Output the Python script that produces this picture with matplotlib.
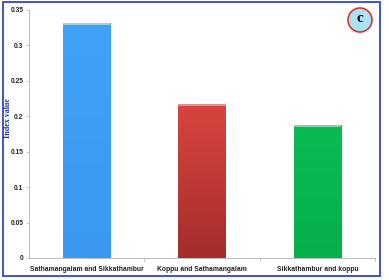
import matplotlib
matplotlib.use("Agg")
import matplotlib.pyplot as plt
import numpy as np
from matplotlib.patches import Ellipse, Rectangle
from matplotlib.colors import LinearSegmentedColormap

# data
pairs = ["Sathamangalam and Sikkathambur", "Koppu and Sathamangalam", "Sikkathambur and koppu"]
index_values = [0.332, 0.217, 0.188]
yticks = [0, 0.05, 0.1, 0.15, 0.2, 0.25, 0.3, 0.35]
ytick_labels = ["0", "0.05", "0.1", "0.15", "0.2", "0.25", "0.3", "0.35"]

bar_colors = ["#3C9EF5", "#C93A36", "#09B64F"]
cap_colors = ["#8FD3F7", "#E98F8C", "#6FE0A0"]
grad_top = ["#3FA2F7", "#D9443F", "#0ABB52"]
grad_bottom = ["#3A98F0", "#A32E2B", "#07B04C"]

W, H = 389, 280
fig = plt.figure(figsize=(W / 100, H / 100), dpi=100)
ax = fig.add_axes([29 / W, 1 - 258 / H, 346 / W, 248 / H])

x = np.arange(len(pairs))
bars = ax.bar(x, index_values, width=0.41, color=bar_colors, zorder=2)

# vertical gradient on each bar, plus a light cap at the top
for b, top, bot, cap in zip(bars, grad_top, grad_bottom, cap_colors):
    x0, w, h = b.get_x(), b.get_width(), b.get_height()
    cmap = LinearSegmentedColormap.from_list("g", [bot, top])
    grad = np.linspace(0, 1, 100).reshape(-1, 1)
    im = ax.imshow(grad, cmap=cmap, aspect="auto", origin="lower",
                   extent=(x0, x0 + w, 0, h), zorder=3)
    im.set_clip_path(b)
    ax.add_patch(Rectangle((x0, h - 0.0025), w, 0.0025, color=cap, lw=0, zorder=4))

ax.set_xlim(-0.5, len(pairs) - 0.5)
ax.set_ylim(0, 0.35)

ax.set_yticks(yticks)
ax.set_yticklabels(ytick_labels, fontsize=4.8, fontweight="bold",
                   family="Liberation Sans", color="#222222")
ax.set_xticks(x)
ax.set_xticklabels(pairs, fontsize=4.9, fontweight="bold",
                   family="Liberation Sans", color="#222222")
ax.tick_params(axis="x", length=0, pad=6)
ax.tick_params(axis="y", length=2, width=0.6, color="#BBBBBB", pad=2)
# boundary ticks between categories
for xb in [0.5, 1.5, 2.5]:
    ax.plot([xb, xb], [0, -0.004], color="#BBBBBB", lw=0.6, clip_on=False)

for s in ["top", "right"]:
    ax.spines[s].set_visible(False)
for s in ["left", "bottom"]:
    ax.spines[s].set_color("#BBBBBB")
    ax.spines[s].set_linewidth(0.7)

fig.text(7.5 / W, 1 - 118 / H, "Index value", rotation=90, ha="center", va="center",
         fontsize=5.8, fontweight="bold", family="Liberation Serif", color="#1F2FA0")

# panel label badge
fig.patches.append(Ellipse((360 / W, 1 - 20 / H), 24 / W, 24 / H, transform=fig.transFigure,
                           facecolor="#A9E3F2", edgecolor="#D6363B", lw=1.2))
fig.text(360 / W, 1 - 19 / H, "c", ha="center", va="center", fontsize=11,
         fontweight="bold", family="Liberation Serif", color="black")

# blue frame
fig.patches.append(Rectangle((3 / W, 4 / H), 377 / W, 274 / H,
                             transform=fig.transFigure, fill=False,
                             edgecolor="#3344CC", lw=1.3))

fig.savefig("out.png", dpi=100)
